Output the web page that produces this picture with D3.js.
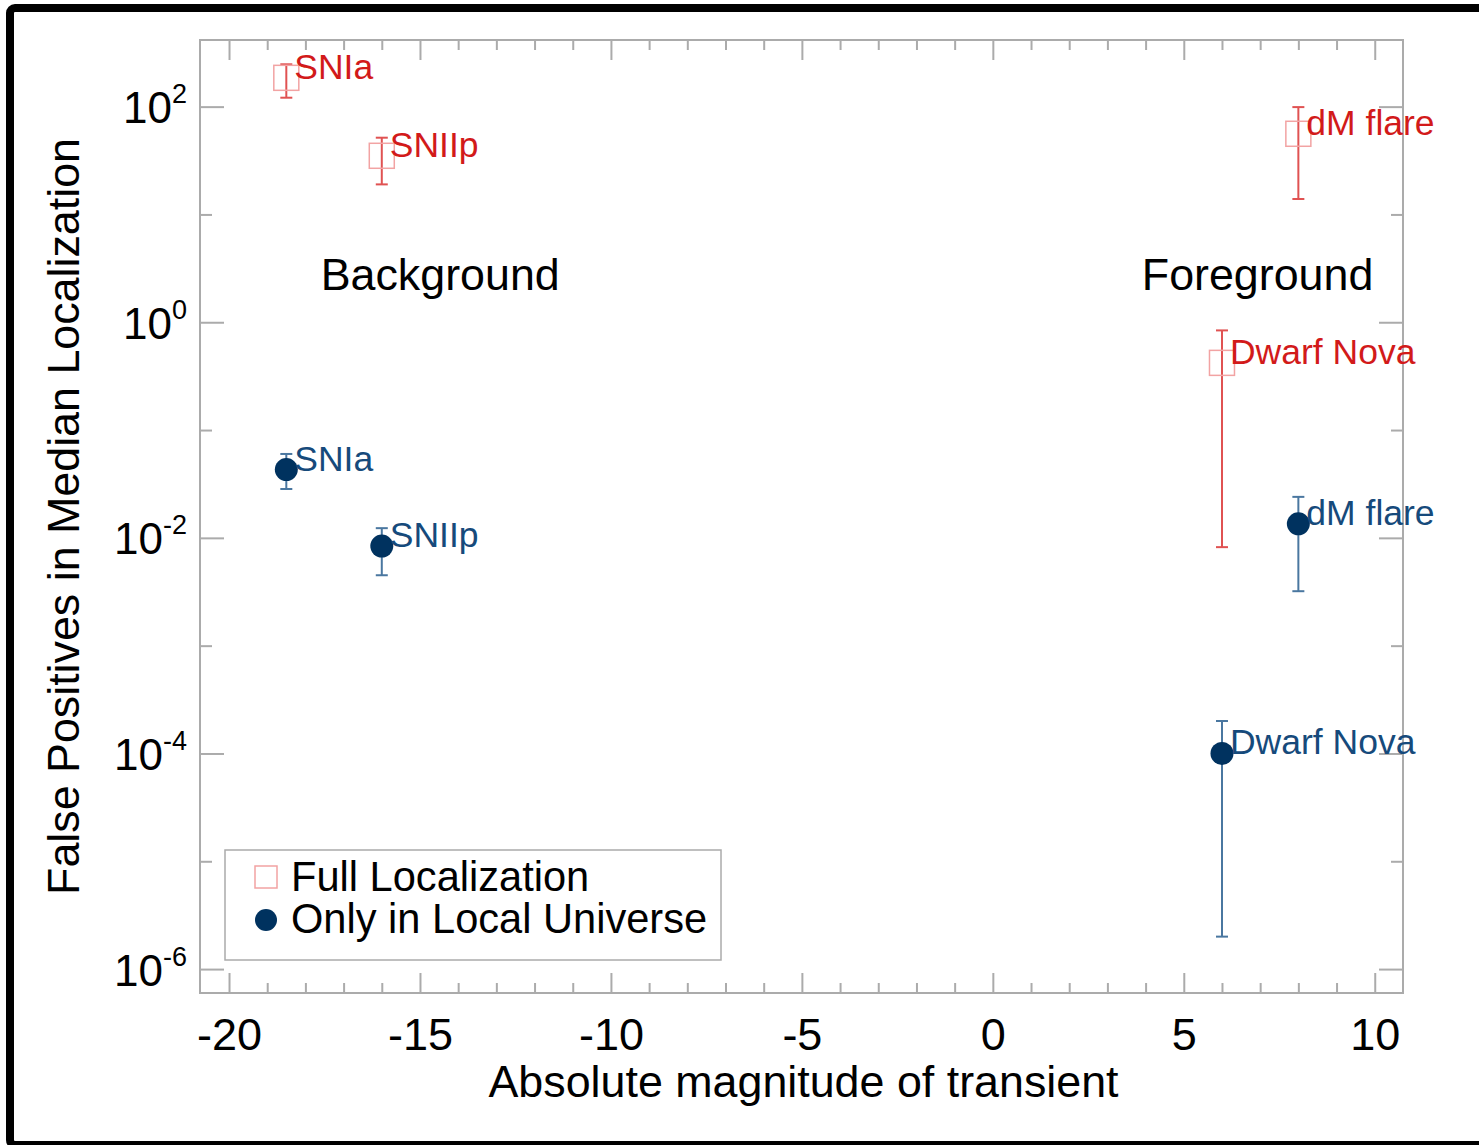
<!DOCTYPE html>
<html>
<head>
<meta charset="utf-8">
<script src="https://cdn.jsdelivr.net/npm/d3@7"></script>
<style>
  body { margin: 0; background: #fff; }
  svg { display: block; }
</style>
</head>
<body>
<div id="chart"></div>
<script>
// transients and their absolute magnitudes
const transients = ["SNIa", "SNIIp", "dM flare", "Dwarf Nova"];
const magnitudes = [-18.5, -16, 8, 6];

// false positives, full localization (median, low, high)
const fullMedian = [185, 35, 56, 0.42];
const fullLow = [121, 19, 13.9, 0.0082];
const fullHigh = [247, 51.5, 99, 0.84];

// false positives, only in local universe (median, low, high)
const localMedian = [0.043, 0.0084, 0.0135, 0.0001];
const localLow = [0.0284, 0.0045, 0.0032, 0.000002];
const localHigh = [0.06, 0.0123, 0.024, 0.0002];

const xMajorTicks = [-20, -15, -10, -5, 0, 5, 10];
const xMinorTicks = d3.range(-20, 11, 1).filter((v) => v % 5 !== 0);
const yMajorTicks = [1e-6, 1e-4, 1e-2, 1, 1e2];
const yMinorTicks = [1e-5, 1e-3, 1e-1, 1e1];

const regionLabels = ["Background", "Foreground"];
const regionX = [-17.6, 3.9];
const regionY = [2, 2];

const seriesNames = ["Full Localization", "Only in Local Universe"];

let width = 1479;
let height = 1145;
let margin = { top: 40, right: 76, bottom: 152, left: 200 };

const font = "'Liberation Sans', Arial, Helvetica, sans-serif";
const red = "#d21a1a";
const redBar = "#e05252";
const redBox = "#f2a3a3";
const blue = "#164a7b";
const blueDot = "#00325f";
const blueBar = "#4a77a0";
const frameColor = "#ababab";

const svg = d3
  .select("#chart")
  .append("svg")
  .attr("width", width)
  .attr("height", height)
  .style("font-family", font);

// outer black border (right and bottom run off the picture)
svg
  .append("rect")
  .attr("x", 10)
  .attr("y", 8)
  .attr("width", 1500)
  .attr("height", 1137)
  .attr("rx", 5)
  .attr("fill", "none")
  .attr("stroke", "#000")
  .attr("stroke-width", 8);

const x0 = margin.left;
const x1 = width - margin.right;
const y0 = height - margin.bottom;
const y1 = margin.top;

const xScale = d3.scaleLinear().domain([-20.76, 10.74]).range([x0, x1]);
const yScale = d3.scaleLog().domain([6e-7, 415]).range([y0, y1]);

function styleAxis(g) {
  g.select(".domain").remove();
  g.selectAll(".tick line").attr("stroke", frameColor).attr("stroke-width", 2);
}

// x axis: bottom (labels) and top (mirror)
svg
  .append("g")
  .attr("transform", `translate(0,${y0})`)
  .call(d3.axisBottom(xScale).tickValues(xMinorTicks).tickSize(-10).tickFormat(""))
  .call(styleAxis);

svg
  .append("g")
  .attr("transform", `translate(0,${y0})`)
  .call(
    d3
      .axisBottom(xScale)
      .tickValues(xMajorTicks)
      .tickSize(-20)
      .tickPadding(25)
      .tickFormat((d) => String(d))
  )
  .call(styleAxis)
  .call((g) =>
    g.selectAll(".tick text").attr("fill", "#000").style("font-size", "45px").style("font-family", font)
  );

svg
  .append("g")
  .attr("transform", `translate(0,${y1})`)
  .call(d3.axisTop(xScale).tickValues(xMinorTicks).tickSize(-10).tickFormat(""))
  .call(styleAxis);

svg
  .append("g")
  .attr("transform", `translate(0,${y1})`)
  .call(d3.axisTop(xScale).tickValues(xMajorTicks).tickSize(-20).tickFormat(""))
  .call(styleAxis);

// y axis: left (labels) and right (mirror)
svg
  .append("g")
  .attr("transform", `translate(${x0},0)`)
  .call(d3.axisLeft(yScale).tickValues(yMinorTicks).tickSize(-12).tickFormat(""))
  .call(styleAxis);

svg
  .append("g")
  .attr("transform", `translate(${x0},0)`)
  .call(
    d3
      .axisLeft(yScale)
      .tickValues(yMajorTicks)
      .tickSize(-24)
      .tickPadding(13)
      .tickFormat("")
  )
  .call(styleAxis)
  .call((g) => {
    g.selectAll(".tick text").each(function (d) {
      const t = d3.select(this).attr("fill", "#000").attr("dy", null).attr("y", 16);
      t.append("tspan").style("font-size", "44px").text("10");
      t.append("tspan")
        .style("font-size", "27px")
        .attr("dy", -20)
        .text(String(Math.round(Math.log10(d))));
    });
  });

svg
  .append("g")
  .attr("transform", `translate(${x1},0)`)
  .call(d3.axisRight(yScale).tickValues(yMinorTicks).tickSize(-12).tickFormat(""))
  .call(styleAxis);

svg
  .append("g")
  .attr("transform", `translate(${x1},0)`)
  .call(d3.axisRight(yScale).tickValues(yMajorTicks).tickSize(-24).tickFormat(""))
  .call(styleAxis);

// plot frame
svg
  .append("rect")
  .attr("x", x0)
  .attr("y", y1)
  .attr("width", x1 - x0)
  .attr("height", y0 - y1)
  .attr("fill", "none")
  .attr("stroke", frameColor)
  .attr("stroke-width", 2);

// error bars
function drawErrorBars(low, high, color) {
  const g = svg.append("g").attr("stroke", color).attr("stroke-width", 2);
  magnitudes.forEach((m, i) => {
    const cx = xScale(m);
    g.append("line")
      .attr("x1", cx)
      .attr("x2", cx)
      .attr("y1", yScale(low[i]))
      .attr("y2", yScale(high[i]));
    [low[i], high[i]].forEach((v) => {
      g.append("line")
        .attr("x1", cx - 6)
        .attr("x2", cx + 6)
        .attr("y1", yScale(v))
        .attr("y2", yScale(v));
    });
  });
}

drawErrorBars(fullLow, fullHigh, redBar);
drawErrorBars(localLow, localHigh, blueBar);

// full localization: open squares
svg
  .append("g")
  .selectAll("rect")
  .data(fullMedian)
  .enter()
  .append("rect")
  .attr("x", (d, i) => xScale(magnitudes[i]) - 12.5)
  .attr("y", (d) => yScale(d) - 12.5)
  .attr("width", 25)
  .attr("height", 25)
  .attr("fill", "none")
  .attr("stroke", redBox)
  .attr("stroke-width", 1.5);

// local universe: filled circles
svg
  .append("g")
  .selectAll("circle")
  .data(localMedian)
  .enter()
  .append("circle")
  .attr("cx", (d, i) => xScale(magnitudes[i]))
  .attr("cy", (d) => yScale(d))
  .attr("r", 11.5)
  .attr("fill", blueDot);

// point labels
svg
  .append("g")
  .selectAll("text")
  .data(fullMedian)
  .enter()
  .append("text")
  .attr("x", (d, i) => xScale(magnitudes[i]) + 8)
  .attr("y", (d) => yScale(d) + 1)
  .attr("fill", red)
  .style("font-size", "35.5px")
  .text((d, i) => transients[i]);

svg
  .append("g")
  .selectAll("text")
  .data(localMedian)
  .enter()
  .append("text")
  .attr("x", (d, i) => xScale(magnitudes[i]) + 8)
  .attr("y", (d) => yScale(d) + 1)
  .attr("fill", blue)
  .style("font-size", "35.5px")
  .text((d, i) => transients[i]);

// region annotations
svg
  .append("g")
  .selectAll("text")
  .data(regionLabels)
  .enter()
  .append("text")
  .attr("x", (d, i) => xScale(regionX[i]))
  .attr("y", (d, i) => yScale(regionY[i]))
  .attr("fill", "#000")
  .style("font-size", "44.8px")
  .text((d) => d);

// axis titles
svg
  .append("text")
  .attr("text-anchor", "middle")
  .attr("x", (x0 + x1) / 2 + 2)
  .attr("y", 1097)
  .style("font-size", "44.8px")
  .text("Absolute magnitude of transient");

svg
  .append("text")
  .attr("text-anchor", "middle")
  .attr("transform", `translate(79,${(y0 + y1) / 2}) rotate(-90)`)
  .style("font-size", "44.8px")
  .text("False Positives in Median Localization");

// legend
const legend = svg.append("g");

legend
  .append("rect")
  .attr("x", 225)
  .attr("y", 850)
  .attr("width", 496)
  .attr("height", 110)
  .attr("fill", "#fff")
  .attr("stroke", frameColor)
  .attr("stroke-width", 1.5);

legend
  .append("rect")
  .attr("x", 255)
  .attr("y", 866)
  .attr("width", 22)
  .attr("height", 22)
  .attr("fill", "none")
  .attr("stroke", redBox)
  .attr("stroke-width", 1.5);

legend
  .append("circle")
  .attr("cx", 266)
  .attr("cy", 920)
  .attr("r", 11)
  .attr("fill", blueDot);

legend
  .selectAll("text")
  .data(seriesNames)
  .enter()
  .append("text")
  .attr("x", 291)
  .attr("y", (d, i) => 891 + i * 42)
  .attr("fill", "#000")
  .style("font-size", "41.6px")
  .text((d) => d);
</script>
</body>
</html>
